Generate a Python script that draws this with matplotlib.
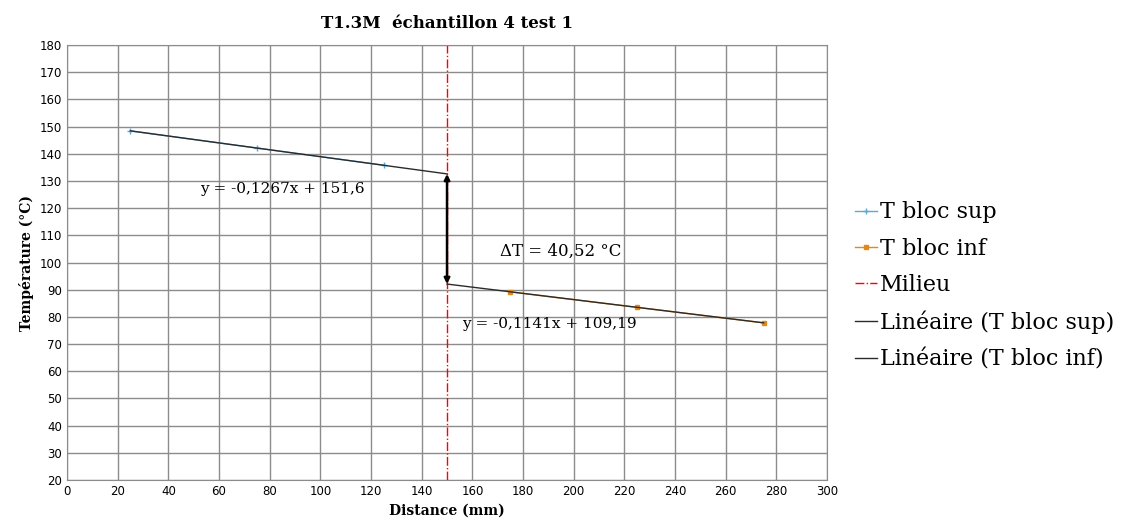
import matplotlib.pyplot as plt
import numpy as np

plt.rcParams['font.family'] = ['DejaVu Serif']

# Measurements
x_sup = [25, 75, 125]
t_sup = [148.4, 142.1, 135.8]
x_inf = [175, 225, 275]
t_inf = [89.2, 83.5, 77.8]
x_mid = 150

# Linear fits (as given on the chart)
a_sup, b_sup = -0.1267, 151.6
a_inf, b_inf = -0.1141, 109.19

fig = plt.figure(figsize=(11.32, 5.29), dpi=100)
ax = fig.add_axes([0.0592, 0.0926, 0.6714, 0.8223])

ax.plot(x_sup, t_sup, color='#5fa8d3', marker='+', markersize=5, linewidth=1,
        label='T bloc sup')
ax.plot(x_inf, t_inf, color='#e08a1e', marker='s', markersize=3, linewidth=1,
        label='T bloc inf')
ax.axvline(x_mid, color='red', linestyle='-.', linewidth=1, label='Milieu')

xs = np.array([x_sup[0], x_mid])
ax.plot(xs, a_sup * xs + b_sup, color='#2b2b2b', linewidth=1,
        label='Linéaire (T bloc sup)')
xi = np.array([x_mid, x_inf[-1]])
ax.plot(xi, a_inf * xi + b_inf, color='#2b2b2b', linewidth=1,
        label='Linéaire (T bloc inf)')

# Delta T arrow
y_top = a_sup * x_mid + b_sup
y_bot = a_inf * x_mid + b_inf
ax.annotate('', xy=(x_mid, y_bot), xytext=(x_mid, y_top),
            arrowprops=dict(arrowstyle='<|-|>', color='black', lw=1.8,
                            mutation_scale=8, shrinkA=0, shrinkB=0))

ax.text(52.5, 125.6, 'y = -0,1267x + 151,6', fontsize=11)
ax.text(171, 102.5, 'ΔT = 40,52 °C', fontsize=12)
ax.text(156, 76, 'y = -0,1141x + 109,19', fontsize=11)

ax.set_xlim(0, 300)
ax.set_ylim(20, 180)
ax.set_xticks(range(0, 301, 20))
ax.set_yticks(range(20, 181, 10))
ax.tick_params(length=0)
for lbl in ax.get_xticklabels() + ax.get_yticklabels():
    lbl.set_family('DejaVu Sans')
    lbl.set_fontsize(8.5)
ax.grid(True, color='#8c8c8c', linewidth=1)
ax.set_axisbelow(True)
for s in ax.spines.values():
    s.set_color('#8c8c8c')

ax.set_title('T1.3M  échantillon 4 test 1', fontsize=12, fontweight='bold', pad=12)
ax.set_xlabel('Distance (mm)', fontsize=10, fontweight='bold', labelpad=4)
ax.set_ylabel('Température (°C)', fontsize=10, fontweight='bold')

ax.legend(loc='center left', bbox_to_anchor=(1.01, 0.446), frameon=False,
          fontsize=16, handlelength=1.0, handletextpad=0.15, labelspacing=0.65)

plt.savefig('out.png', dpi=100)
